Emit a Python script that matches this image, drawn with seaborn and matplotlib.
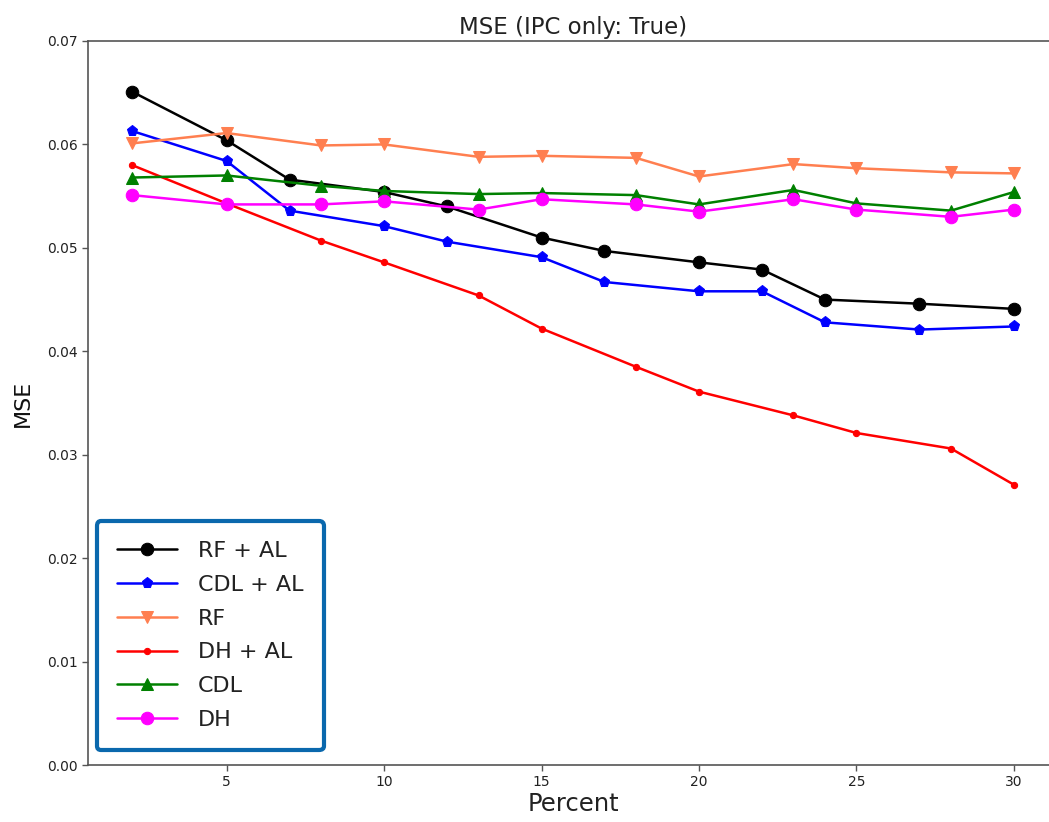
import matplotlib
matplotlib.use("Agg")
import matplotlib.pyplot as plt
import seaborn as sns
import pandas as pd

# Percent of labelled data (two sampling grids)
pct_al = [2, 5, 7, 10, 12, 15, 17, 20, 22, 24, 27, 30]
pct_base = [2, 5, 8, 10, 13, 15, 18, 20, 23, 25, 28, 30]

# MSE per method
rf_al = [0.0651, 0.0604, 0.0566, 0.0554, 0.0540, 0.0510, 0.0497, 0.0486, 0.0479, 0.0450, 0.0446, 0.0441]
cdl_al = [0.0613, 0.0584, 0.0536, 0.0521, 0.0506, 0.0491, 0.0467, 0.0458, 0.0458, 0.0428, 0.0421, 0.0424]
rf = [0.0601, 0.0611, 0.0599, 0.0600, 0.0588, 0.0589, 0.0587, 0.0569, 0.0581, 0.0577, 0.0573, 0.0572]
dh_al = [0.0580, 0.0543, 0.0507, 0.0486, 0.0454, 0.0422, 0.0385, 0.0361, 0.0338, 0.0321, 0.0306, 0.0271]
cdl = [0.0568, 0.0570, 0.0560, 0.0555, 0.0552, 0.0553, 0.0551, 0.0542, 0.0556, 0.0543, 0.0536, 0.0554]
dh = [0.0551, 0.0542, 0.0542, 0.0545, 0.0537, 0.0547, 0.0542, 0.0535, 0.0547, 0.0537, 0.0530, 0.0537]

series = [
    ("RF + AL", pct_al, rf_al, "black", "o", 9),
    ("CDL + AL", pct_al, cdl_al, "blue", "p", 8),
    ("RF", pct_base, rf, "coral", "v", 8),
    ("DH + AL", pct_base, dh_al, "red", ".", 9),
    ("CDL", pct_base, cdl, "green", "^", 8),
    ("DH", pct_base, dh, "magenta", "o", 9),
]

sns.set_style("white")
plt.rcParams["font.family"] = ["DejaVu Sans"]

fig = plt.figure(figsize=(10.49, 8.22), dpi=100)
ax = fig.add_axes([88 / 1049, 57 / 822, 970 / 1049, 724 / 822])

for name, xs, ys, color, marker, ms in series:
    df = pd.DataFrame({"Percent": xs, "MSE": ys})
    sns.lineplot(data=df, x="Percent", y="MSE", ax=ax, color=color, marker=marker,
                 markersize=ms, markeredgecolor=color, linewidth=1.8, label=name)

ax.set_xlim(0.6, 31.4)
ax.set_ylim(0.0, 0.07)
ax.set_xticks([5, 10, 15, 20, 25, 30])
ax.set_yticks([0.0, 0.01, 0.02, 0.03, 0.04, 0.05, 0.06, 0.07])
ax.set_yticklabels([f"{v:.2f}" for v in ax.get_yticks()])
ax.tick_params(axis="both", which="both", direction="out", length=4, width=1,
               color="#555555", labelsize=10, labelcolor="#222222", bottom=True, left=True)
for side in ["left", "bottom", "top", "right"]:
    ax.spines[side].set_color("#555555")
    ax.spines[side].set_linewidth(1.2)

ax.set_title("MSE (IPC only: True)", fontsize=16.5, color="#222222", pad=5)
ax.set_xlabel("Percent", fontsize=17.5, color="#222222", labelpad=2)
ax.set_ylabel("MSE", fontsize=16, color="#111111", labelpad=10)

leg = ax.legend(loc="lower left", bbox_to_anchor=(9 / 970, 15 / 724), borderaxespad=0,
                fontsize=16, handlelength=2.7, labelspacing=0.62, borderpad=0.9,
                handletextpad=0.95, frameon=True, fancybox=True, framealpha=1.0)
leg.get_frame().set_edgecolor("#0a68ad")
leg.get_frame().set_linewidth(3)
for t in leg.get_texts():
    t.set_color("#222222")

fig.savefig("out.png", dpi=100, facecolor="white")
